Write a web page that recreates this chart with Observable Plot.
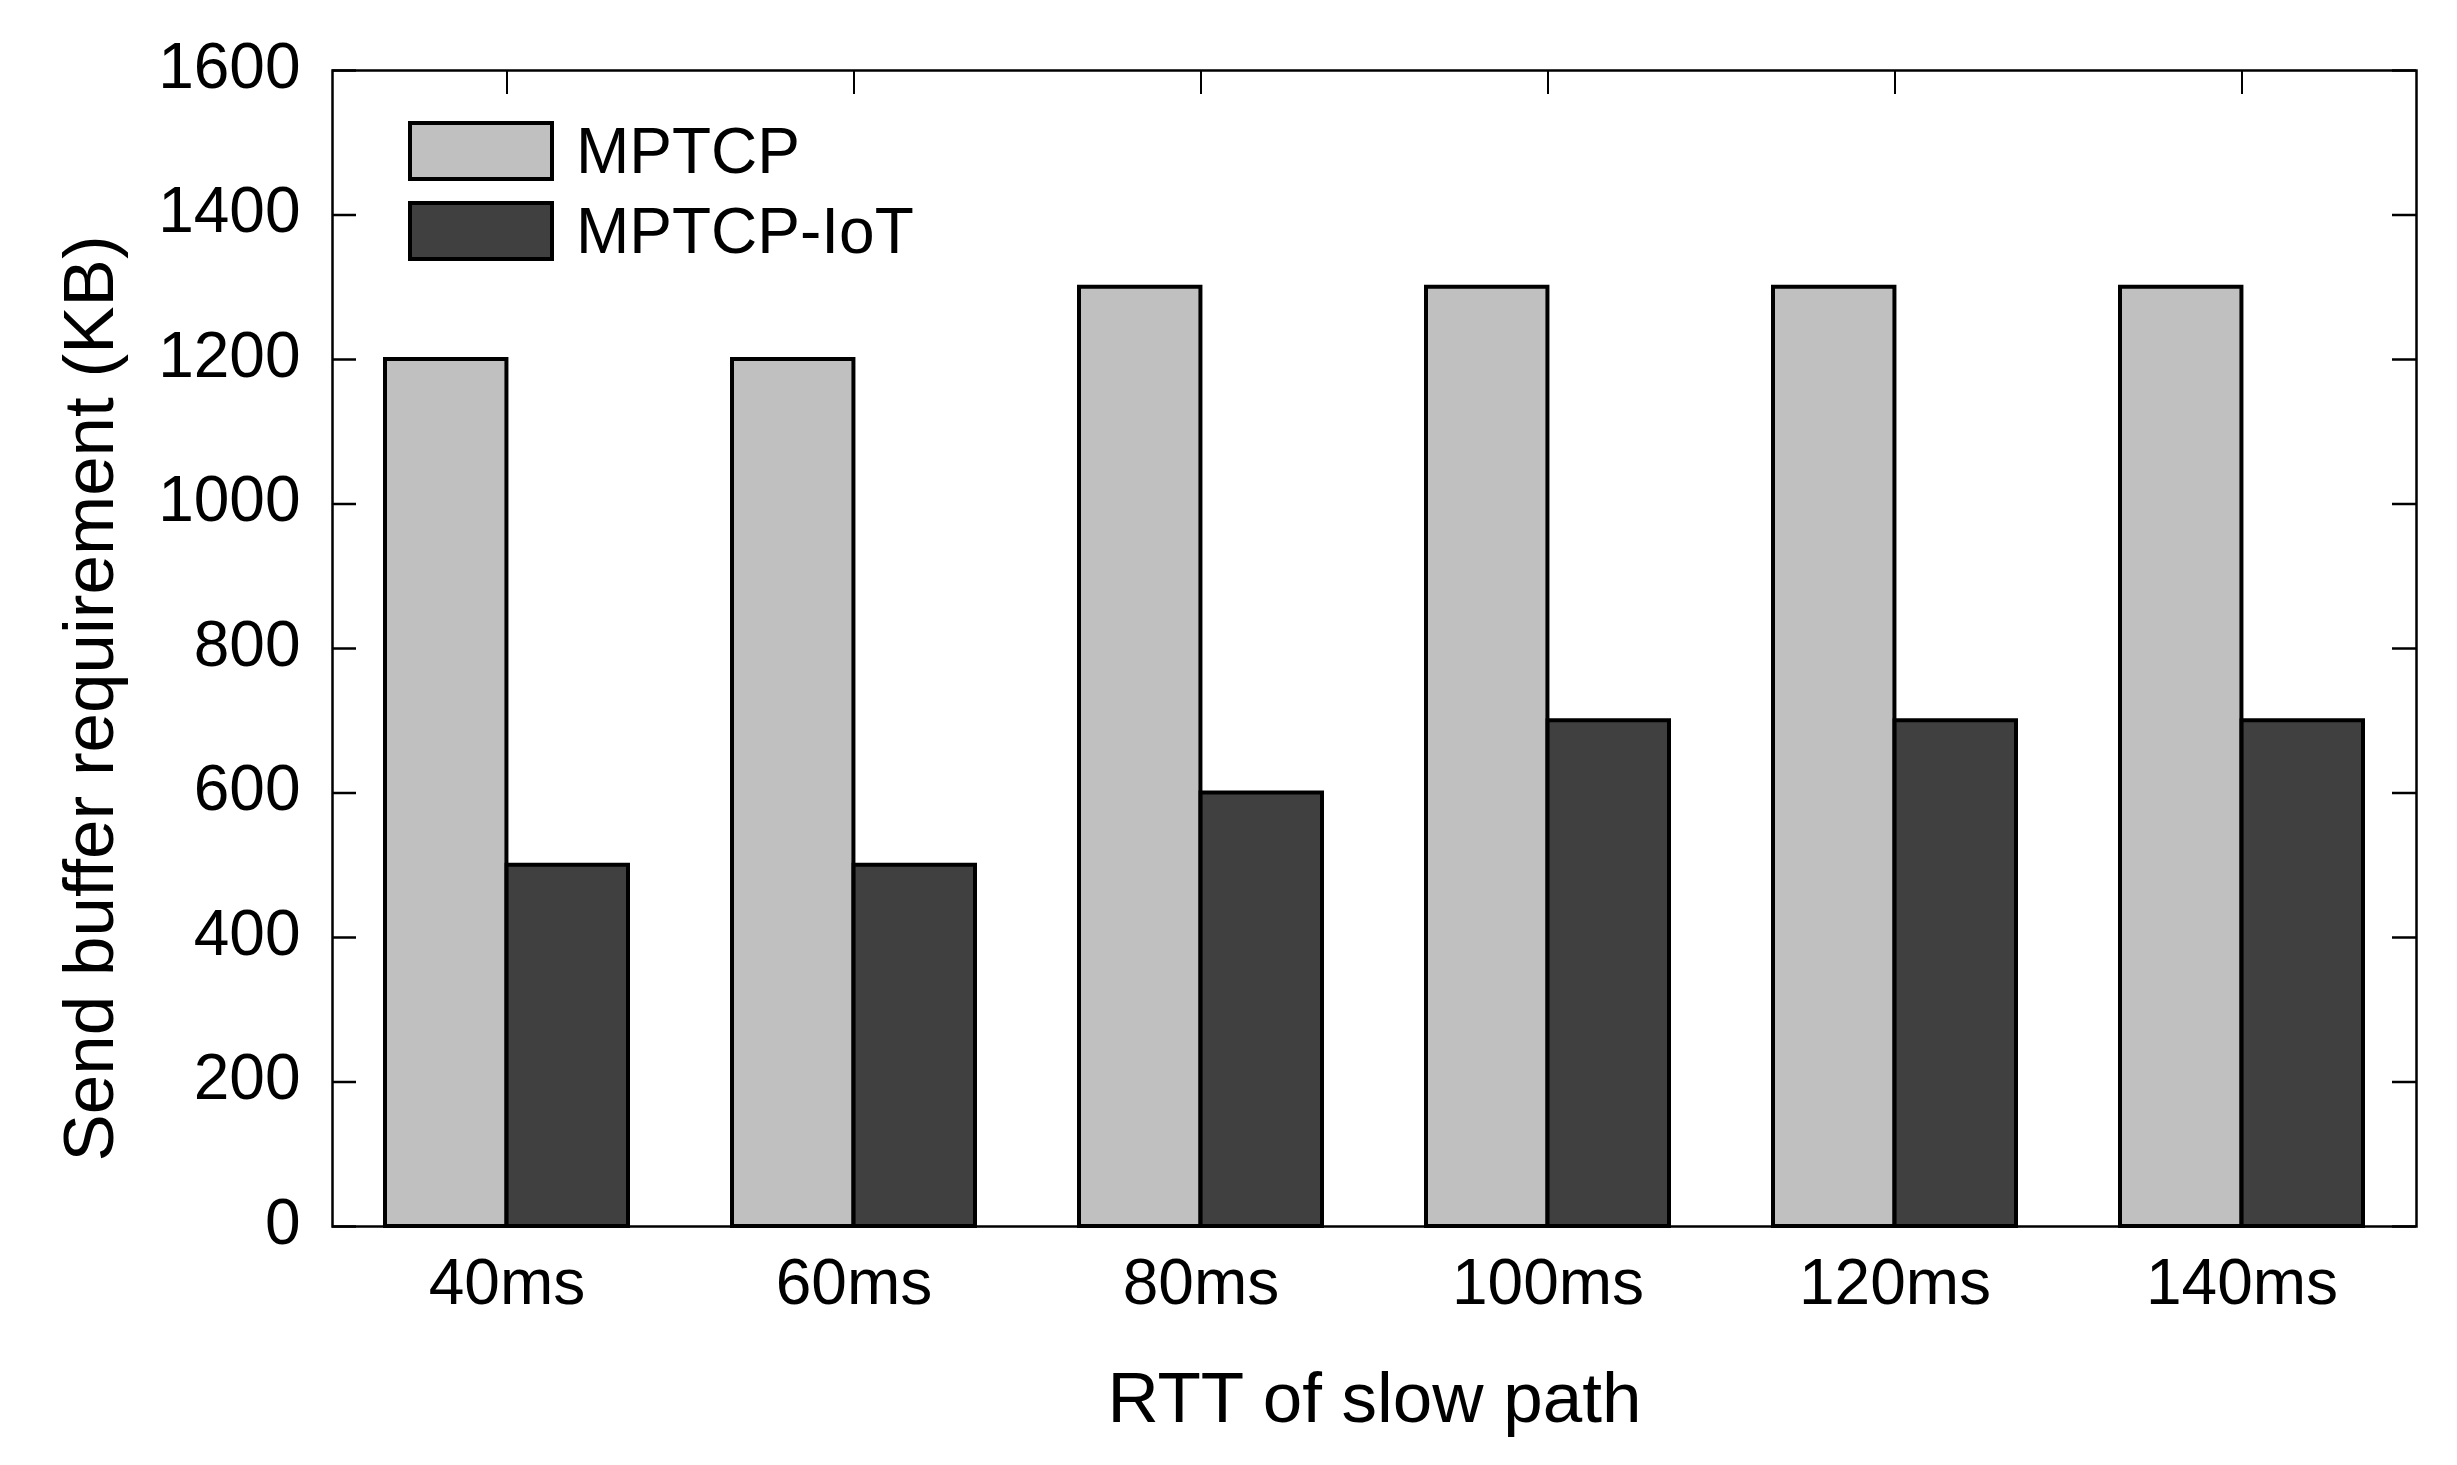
<!DOCTYPE html>
<html><head><meta charset="utf-8">
<script src="https://cdn.jsdelivr.net/npm/d3@7"></script>
<script src="https://cdn.jsdelivr.net/npm/@observablehq/plot@0.6"></script>
<style>body{margin:0;background:#fff}</style>
</head><body><div id="chart"></div>
<script>
const categories = ["40ms", "60ms", "80ms", "100ms", "120ms", "140ms"];
const seriesNames = ["MPTCP", "MPTCP-IoT"];
const mptcp = [1200, 1200, 1300, 1300, 1300, 1300];
const mptcpIoT = [500, 500, 600, 700, 700, 700];
const yTicks = [0, 200, 400, 600, 800, 1000, 1200, 1400, 1600];
const colors = ["#c0c0c0", "#404040"];
const xTitle = "RTT of slow path";
const yTitle = "Send buffer requirement (KB)";

const W = 2457, H = 1465, mL = 332, mR = 41, mT = 70, mB = 239;
const pw = W - mL - mR, ph = H - mT - mB;
const padIn = 0.3, padOut = 0.15;
const step = pw / (categories.length - padIn + 2 * padOut);
const half = step * (1 - padIn) / 2;
const font = "'Liberation Sans', Arial, Helvetica, sans-serif";

const rowsA = categories.map((c, i) => ({rtt: c, series: seriesNames[0], value: mptcp[i]}));
const rowsB = categories.map((c, i) => ({rtt: c, series: seriesNames[1], value: mptcpIoT[i]}));

const chart = Plot.plot({
  width: W, height: H,
  marginLeft: mL, marginRight: mR, marginTop: mT, marginBottom: mB,
  style: {fontFamily: font, fontSize: "64px", background: "#fff", color: "#000"},
  x: {type: "band", domain: categories, paddingInner: padIn, paddingOuter: padOut},
  y: {domain: [0, 1600]},
  marks: [
    Plot.barY(rowsA, {x: "rtt", y: "value", fill: colors[0], stroke: "#000", strokeWidth: 4, insetRight: half}),
    Plot.barY(rowsB, {x: "rtt", y: "value", fill: colors[1], stroke: "#000", strokeWidth: 4, insetLeft: half}),
    Plot.ruleY(yTicks, {y: d => d, stroke: "#000", strokeWidth: 2.5, insetRight: pw - 24}),
    Plot.ruleY(yTicks, {y: d => d, stroke: "#000", strokeWidth: 2.5, insetLeft: pw - 24}),
    Plot.ruleX(categories, {x: d => d, stroke: "#000", strokeWidth: 2, insetBottom: ph - 24}),
    Plot.frame({stroke: "#000", strokeWidth: 2.5}),
    Plot.axisY(yTicks, {tickSize: 0, tickPadding: 32, fontSize: 64, dy: -3, label: null, tickFormat: d => String(d)}),
    Plot.axisX({tickSize: 0, tickPadding: 32, fontSize: 64, label: null}),
    Plot.text([xTitle], {text: d => d, frameAnchor: "bottom", lineAnchor: "middle", dy: 173, dx: 0, fontSize: 71}),
    Plot.text([yTitle], {text: d => d, frameAnchor: "left", rotate: -90, lineAnchor: "middle", textAnchor: "middle", dx: -242, dy: 50, fontSize: 71})
  ]
});
document.getElementById("chart").appendChild(chart);

// legend
const svg = d3.select(chart);
const lg = svg.append("g").attr("font-family", font).attr("font-size", 64).attr("text-anchor", "start");
seriesNames.forEach((name, i) => {
  const y0 = 123 + i * 80;
  lg.append("rect").attr("x", 410).attr("y", y0).attr("width", 142).attr("height", 56)
    .attr("fill", colors[i]).attr("stroke", "#000").attr("stroke-width", 4);
  lg.append("text").attr("x", 576).attr("y", y0 + 50).attr("fill", "#000")
    .attr("text-anchor", "start").text(name);
});
</script>
</body></html>
